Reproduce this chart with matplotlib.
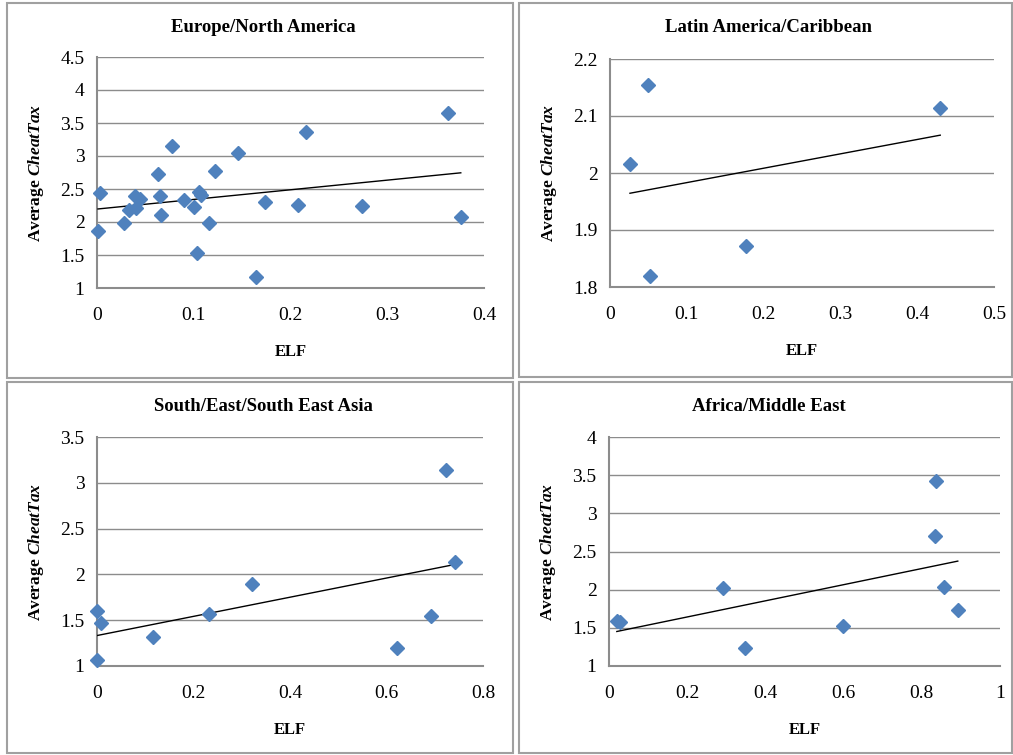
import matplotlib
matplotlib.use("Agg")
import matplotlib.pyplot as plt
from matplotlib.patches import Rectangle
import numpy as np

plt.rcParams['font.family'] = ['Liberation Serif', 'DejaVu Serif']
plt.rcParams['mathtext.fontset'] = 'custom'
plt.rcParams['mathtext.it'] = 'Liberation Serif:italic:bold'
plt.rcParams['mathtext.rm'] = 'Liberation Serif:bold'

# Europe/North America
eu_elf = [0.003, 0.001, 0.028, 0.033, 0.039, 0.040, 0.044, 0.063, 0.065, 0.066,
          0.078, 0.090, 0.100, 0.103, 0.105, 0.107, 0.116, 0.122, 0.146, 0.164,
          0.174, 0.208, 0.216, 0.274, 0.363, 0.376]
eu_cheat = [2.44, 1.87, 1.99, 2.18, 2.39, 2.21, 2.35, 2.73, 2.40, 2.10,
            3.15, 2.33, 2.22, 1.53, 2.46, 2.41, 1.99, 2.78, 3.05, 1.17,
            2.30, 2.26, 3.37, 2.25, 3.65, 2.08]

# Latin America/Caribbean
la_elf = [0.050, 0.026, 0.052, 0.177, 0.430]
la_cheat = [2.154, 2.015, 1.820, 1.872, 2.114]

# South/East/South East Asia
as_elf = [0.000, 0.008, 0.000, 0.117, 0.233, 0.321, 0.622, 0.692, 0.724, 0.743]
as_cheat = [1.60, 1.47, 1.065, 1.32, 1.57, 1.89, 1.20, 1.55, 3.14, 2.14]

# Africa/Middle East
af_elf = [0.020, 0.029, 0.292, 0.348, 0.599, 0.833, 0.836, 0.858, 0.892]
af_cheat = [1.595, 1.57, 2.02, 1.24, 1.525, 2.705, 3.43, 2.04, 1.73]

panels = [
    ("Europe/North America", eu_elf, eu_cheat, (0, 0.4), 0.1, (1, 4.5), 0.5,
     [97, 57, 484, 288]),
    ("Latin America/Caribbean", la_elf, la_cheat, (0, 0.5), 0.1, (1.8, 2.2), 0.1,
     [610, 59, 994, 287]),
    ("South/East/South East Asia", as_elf, as_cheat, (0, 0.8), 0.2, (1, 3.5), 0.5,
     [97, 437, 483, 666]),
    ("Africa/Middle East", af_elf, af_cheat, (0, 1), 0.2, (1, 4), 0.5,
     [609, 437, 1000, 666]),
]
frames = [[7, 3, 513, 378], [519, 3, 1012, 377], [7, 382, 513, 753], [519, 382, 1012, 753]]

W, H = 1013, 755
fig = plt.figure(figsize=(W / 100, H / 100), dpi=100)

for x0, y0, x1, y1 in frames:
    fig.patches.append(Rectangle((x0 / W, 1 - y1 / H), (x1 - x0) / W, (y1 - y0) / H,
                                 transform=fig.transFigure, fill=False,
                                 edgecolor='#a0a0a0', lw=1.5))

for (title, xs, ys, xlim, xstep, ylim, ystep, box), frame in zip(panels, frames):
    l, t, r, b = box
    ax = fig.add_axes([l / W, 1 - b / H, (r - l) / W, (b - t) / H])
    ax.set_xlim(xlim)
    ax.set_ylim(ylim)
    ax.set_xticks(np.arange(xlim[0], xlim[1] + xstep / 2, xstep))
    ax.set_yticks(np.arange(ylim[0], ylim[1] + ystep / 2, ystep))
    ax.xaxis.set_major_formatter(plt.FuncFormatter(lambda v, p: f"{v:g}"))
    ax.yaxis.set_major_formatter(plt.FuncFormatter(lambda v, p: f"{v:g}"))
    ax.grid(axis='y', color='#8c8c8c', lw=1)
    ax.set_axisbelow(True)
    for s in ['top', 'right']:
        ax.spines[s].set_visible(False)
    for s in ['left', 'bottom']:
        ax.spines[s].set_color('#8c8c8c')
        ax.spines[s].set_linewidth(1.5)
    ax.tick_params(length=0, labelsize=14)
    ax.tick_params(axis='x', pad=14)
    ax.tick_params(axis='y', pad=9)

    # linear trend line over the data range
    k, c = np.polyfit(xs, ys, 1)
    xt = np.array([min(xs), max(xs)])
    ax.plot(xt, k * xt + c, color='black', lw=1, zorder=3)
    ax.plot(xs, ys, 'D', color='#4f81bd', markersize=7, zorder=4, clip_on=False)

    # title is centred on the whole chart frame, not on the plot area
    fx = (frame[0] + frame[2]) / 2 + 3
    fig.text(fx / W, 1 - (frame[1] + 25) / H, title, fontsize=13.5,
             fontweight='bold', ha='center', va='center')
    ax.set_xlabel('ELF', fontsize=12, fontweight='bold')
    ax.set_ylabel('Average $\\mathit{CheatTax}$', fontsize=12.5, fontweight='bold')
    ax.xaxis.set_label_coords(0.5, -56 / (b - t))
    ax.yaxis.set_label_coords(-51 / (r - l), 0.5)

fig.savefig('out.png', dpi=100)
